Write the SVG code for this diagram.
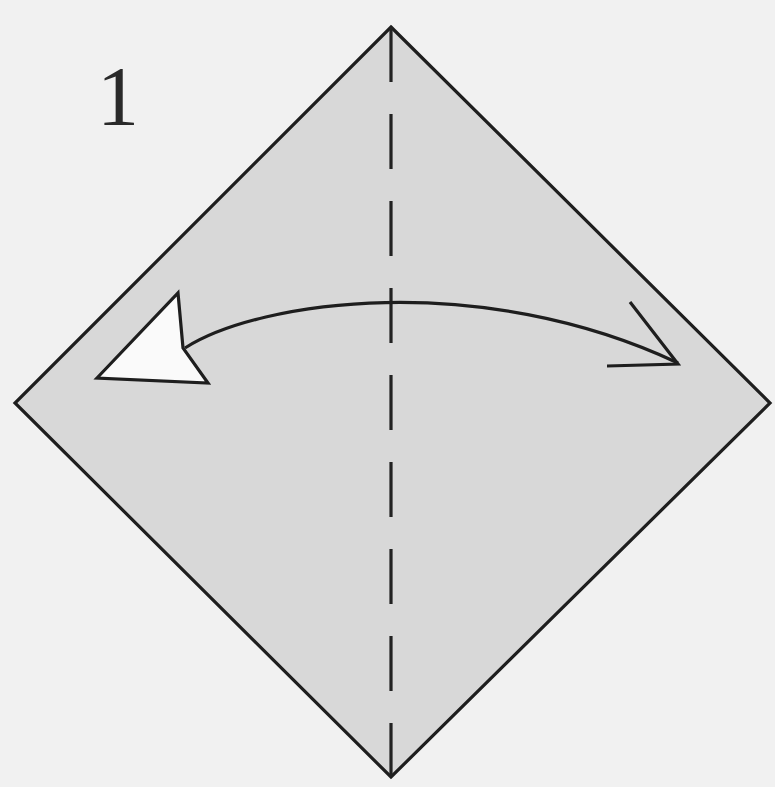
<svg xmlns="http://www.w3.org/2000/svg" width="775" height="787" viewBox="0 0 775 787">
<style>
.edge{stroke:#1e1e1e;stroke-width:3.2;stroke-linejoin:miter}
.crease{fill:none;stroke:#222;stroke-width:3.2;stroke-dasharray:55 32}
.label{font-family:"Liberation Serif","Times New Roman",serif;font-size:84px;fill:#2a2a2a}
</style>
<rect width="775" height="787" fill="#f1f1f1"/>
<g id="paper">
<polygon class="edge" points="391,27 770,403 391,777 15,403" style="fill:#d8d8d8"/>
</g>
<g id="connectors">
<line class="crease" x1="391" y1="27" x2="391" y2="777"/>
<path class="edge" d="M185,348 C260,300 480,270 678,363" style="fill:none"/>
<polygon class="edge" points="97,378 178,293 183,348 208,383" style="fill:#fafafa"/>
<polyline class="edge" points="630,302 678,364 607,366" style="fill:none"/>
</g>
<g id="step">
<text class="label" x="118" y="125" text-anchor="middle">1</text>
</g>
</svg>
